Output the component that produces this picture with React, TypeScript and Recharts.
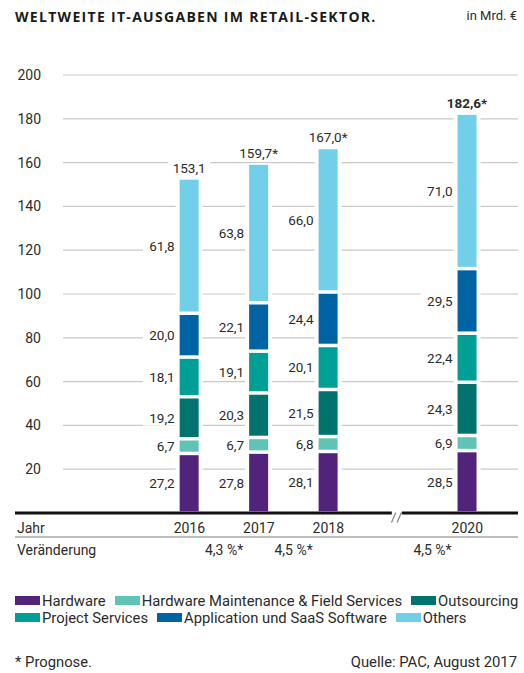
import { BarChart, Bar, XAxis, YAxis, CartesianGrid, LabelList } from 'recharts';

// Weltweite IT-Ausgaben im Retail-Sektor, in Mrd. Euro (Quelle: PAC)
const years = [2016, 2017, 2018, 2020];
const hardware = [27.2, 27.8, 28.1, 28.5];
const hwMaintenance = [6.7, 6.7, 6.8, 6.9];
const outsourcing = [19.2, 20.3, 21.5, 24.3];
const projectServices = [18.1, 19.1, 20.1, 22.4];
const appSaas = [20.0, 22.1, 24.4, 29.5];
const others = [61.8, 63.8, 66.0, 71.0];
const totals = [153.1, 159.7, 167.0, 182.6];
const forecast = [false, true, true, true];
const emphasis = [false, false, false, true];

const changeLabels = ['4,3 %*', '4,5 %*', '4,5 %*'];
const changePositions = [2016.5, 2017.5, 2019.5];
const yTicks = [20, 40, 60, 80, 100, 120, 140, 160, 180, 200];

const X_MIN = 2013.49;
const X_MAX = 2020.73;
const BREAK_AT = 2019;

const CHART_W = 524;
const CHART_H = 565;
const MARGIN = { top: 75, right: 6, left: 15, bottom: 4 };
const PLOT_W = CHART_W - MARGIN.left - MARGIN.right;

const series = [
  { key: 'hardware', name: 'Hardware', color: '#51237a', values: hardware },
  { key: 'hwMaintenance', name: 'Hardware Maintenance & Field Services', color: '#5fc4b6', values: hwMaintenance },
  { key: 'outsourcing', name: 'Outsourcing', color: '#00736f', values: outsourcing },
  { key: 'projectServices', name: 'Project Services', color: '#009f96', values: projectServices },
  { key: 'appSaas', name: 'Application und SaaS Software', color: '#0063a3', values: appSaas },
  { key: 'others', name: 'Others', color: '#72cfea', values: others },
];

const data = years.map((year, i) => {
  const row: any = { year, total: totals[i] };
  series.forEach((s) => {
    row[s.key] = s.values[i];
  });
  return row;
});

const FONT = 'Roboto, "DejaVu Sans", sans-serif';
const TEXT = '#2b2b2b';

const fmt = (v: number) => v.toFixed(1).replace('.', ',');

const box = (p: any) => {
  const vb = p.viewBox || {};
  return {
    x: vb.x ?? p.x,
    y: vb.y ?? p.y,
    width: vb.width ?? p.width,
    height: vb.height ?? p.height,
  };
};

// bar segment with a white halo so gridlines stop short of the bar
const SegmentShape = (p: any) => {
  const { x, y, width, height, fill } = p;
  if (!height) return null;
  return (
    <g>
      <rect x={x - 4} y={y} width={width + 8} height={height} fill="#fff" />
      <rect x={x} y={y + 1.75} width={width} height={Math.max(0, height - 3.5)} fill={fill} />
    </g>
  );
};

const SegmentLabel = (p: any) => {
  const b = box(p);
  const text = fmt(Number(p.value));
  const tx = b.x - 5;
  const ty = b.y + b.height / 2;
  const w = text.length * 7.2;
  return (
    <g>
      <rect x={tx - w - 3} y={ty - 8} width={w + 4} height={16} fill="#fff" />
      <text x={tx} y={ty} textAnchor="end" dominantBaseline="central" fill={TEXT} fontSize={13.5} fontFamily={FONT}>
        {text}
      </text>
    </g>
  );
};

const TotalLabel = (p: any) => {
  const b = box(p);
  const i = p.index;
  const text = fmt(Number(p.value)) + (forecast[i] ? '*' : '');
  const cx = b.x + b.width / 2;
  const cy = b.y - 10;
  const w = text.length * 7.2;
  return (
    <g>
      <rect x={cx - w / 2 - 3} y={cy - 8} width={w + 6} height={16} fill="#fff" />
      <text
        x={cx}
        y={cy}
        textAnchor="middle"
        dominantBaseline="central"
        fill={TEXT}
        fontSize={13.5}
        fontWeight={emphasis[i] ? 700 : 400}
        fontFamily={FONT}
      >
        {text}
      </text>
    </g>
  );
};

const YTick = (p: any) => {
  const { x, y, payload } = p;
  return (
    <text x={x + 26} y={y} textAnchor="end" dominantBaseline="central" fill={TEXT} fontSize={14} fontFamily={FONT}>
      {payload.value}
    </text>
  );
};

const rowText = (x: number, y: number, anchor: string, label: any, key?: string) => (
  <text
    key={key}
    x={x}
    y={y}
    textAnchor={anchor}
    dominantBaseline="central"
    fill={TEXT}
    fontSize={14}
    fontFamily={FONT}
  >
    {label}
  </text>
);

// x ticks carry the year row, the axis break and the "Veränderung" row
const XTick = (p: any) => {
  const { x, y, payload } = p;
  const v = payload.value;
  if (v === BREAK_AT) {
    return (
      <g>
        <rect x={x - 6} y={y - 3} width={10} height={6} fill="#fff" />
        <line x1={x - 6.3} y1={y + 9.5} x2={x - 2} y2={y - 0.5} stroke="#8a8a8a" strokeWidth={1.3} />
        <line x1={x - 0.7} y1={y + 9.5} x2={x + 3.6} y2={y - 0.5} stroke="#8a8a8a" strokeWidth={1.3} />
      </g>
    );
  }
  if (v === X_MIN) {
    return (
      <g>
        {rowText(x + 2, y + 15, 'start', 'Jahr', 'a')}
        <rect x={x} y={y + 23} width={PLOT_W} height={2} fill="#bdbdbd" />
        {rowText(x + 2, y + 37, 'start', 'Veränderung', 'b')}
      </g>
    );
  }
  const ci = changePositions.indexOf(v);
  if (ci >= 0) return rowText(x, y + 37, 'middle', changeLabels[ci]);
  return rowText(x, y + 15, 'middle', v);
};

const LegendRow = ({ items }: { items: typeof series }) => (
  <div style={{ display: 'flex', alignItems: 'center', height: 17 }}>
    {items.map((s) => (
      <div key={s.key} style={{ display: 'flex', alignItems: 'center', marginRight: 9 }}>
        <span style={{ display: 'inline-block', width: 25, height: 9, background: s.color, marginRight: 2 }} />
        <span style={{ fontSize: 14.8, color: TEXT, whiteSpace: 'nowrap' }}>{s.name}</span>
      </div>
    ))}
  </div>
);

export default function App() {
  return (
    <div
      style={{
        position: 'absolute',
        left: 0,
        top: 0,
        width: 524,
        height: 673,
        background: '#fff',
        fontFamily: FONT,
        overflow: 'hidden',
      }}
    >
      <div style={{ position: 'absolute', left: 0, top: 0 }}>
        <BarChart width={CHART_W} height={CHART_H} data={data} margin={MARGIN}>
          <CartesianGrid horizontal vertical={false} x={63} width={455} stroke="#c9c9c9" strokeWidth={1.2} />
          <YAxis
            type="number"
            domain={[0, 200]}
            ticks={yTicks}
            mirror
            width={40}
            axisLine={false}
            tickLine={false}
            tickSize={0}
            tickMargin={0}
            tick={<YTick />}
          />
          <XAxis
            dataKey="year"
            type="number"
            domain={[X_MIN, X_MAX]}
            ticks={[X_MIN, 2016, 2016.5, 2017, 2017.5, 2018, BREAK_AT, 2019.5, 2020]}
            interval={0}
            height={48}
            axisLine={{ stroke: '#111', strokeWidth: 3 }}
            tickLine={false}
            tickSize={0}
            tickMargin={0}
            tick={<XTick />}
          />
          {series.map((s) => (
            <Bar
              key={s.key}
              dataKey={s.key}
              name={s.name}
              stackId="it"
              fill={s.color}
              barSize={19}
              shape={<SegmentShape />}
              isAnimationActive={false}
            >
              <LabelList dataKey={s.key} content={<SegmentLabel />} />
              {s.key === 'others' && <LabelList dataKey="total" content={<TotalLabel />} />}
            </Bar>
          ))}
        </BarChart>
      </div>

      <div
        style={{
          position: 'absolute',
          left: 15,
          top: 7,
          fontFamily: '"Open Sans", sans-serif',
          fontSize: 14,
          fontWeight: 700,
          color: '#1a1a1a',
          letterSpacing: 1.3,
          whiteSpace: 'nowrap',
        }}
      >
        WELTWEITE IT-AUSGABEN IM RETAIL-SEKTOR.
      </div>
      <div style={{ position: 'absolute', right: 7, top: 8, fontSize: 13, color: TEXT }}>in Mrd. €</div>

      <div style={{ position: 'absolute', left: 15, top: 592 }}>
        <LegendRow items={series.slice(0, 3)} />
        <LegendRow items={series.slice(3)} />
      </div>

      <div style={{ position: 'absolute', left: 15, top: 653, fontSize: 14.8, color: TEXT }}>* Prognose.</div>
      <div style={{ position: 'absolute', right: 7, top: 653, fontSize: 14.8, color: TEXT }}>Quelle: PAC, August 2017</div>
    </div>
  );
}
